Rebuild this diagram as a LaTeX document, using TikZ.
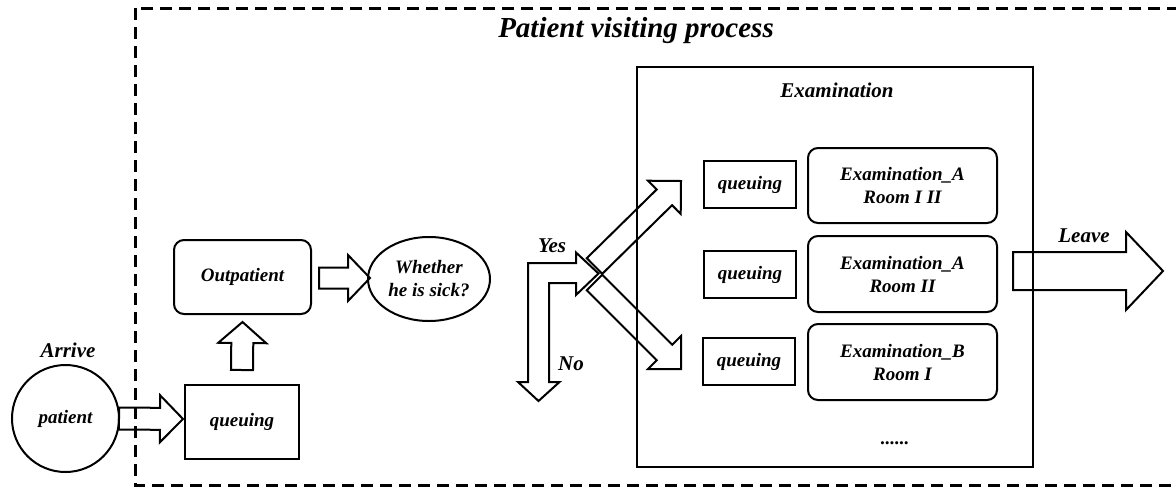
\documentclass[tikz,border=0pt]{standalone}
\usepackage{fontspec}
\setmainfont{Liberation Serif}
\usetikzlibrary{calc,shapes.geometric}
\tikzset{
  txt/.style={font=\bfseries\itshape\fontsize{19}{23}\selectfont, align=center, inner sep=0pt},
  bigtxt/.style={txt, font=\bfseries\itshape\fontsize{21}{25}\selectfont},
  box/.style={txt, draw, line width=2pt, inner sep=0pt, outer sep=0pt},
  rbox/.style={box, rounded corners=10pt},
  blockarrow/.style={draw, line width=2pt, line join=miter},
  frame/.style={draw, line width=3pt, dash pattern=on 12pt off 7pt},
}
% block arrow: start, tip, shaft half width, head half width, head length
\newcommand{\barrow}[5]{%
  \coordinate (ba-s) at (#1);
  \coordinate (ba-t) at (#2);
  \coordinate (ba-b) at ($(ba-t)!#5pt!(ba-s)$);
  \draw[blockarrow] ($(ba-s)!#3pt!90:(ba-t)$) -- ($(ba-b)!#3pt!90:(ba-t)$)
    -- ($(ba-b)!#4pt!90:(ba-t)$) -- (ba-t) -- ($(ba-b)!#4pt!-90:(ba-t)$)
    -- ($(ba-b)!#3pt!-90:(ba-t)$) -- ($(ba-s)!#3pt!-90:(ba-t)$) -- cycle;
}
\begin{document}
\begin{tikzpicture}[x=1pt,y=-1pt]
\useasboundingbox (0,0) rectangle (1176,488);
\draw[frame] (135,8) rectangle (1177.5,485);
\node[txt, font=\bfseries\itshape\fontsize{29}{33}\selectfont] (title) at (636,31) {Patient visiting process};

\node[box, circle, minimum size=107] (patient) at (65.5,418.5) {patient};
\node[bigtxt] (arrive) at (68,350) {Arrive};
\node[box, minimum width=114, minimum height=74] (q0) at (242,422) {queuing};
\node[rbox, minimum width=137, minimum height=74] (outp) at (242.5,277) {Outpatient};
\node[box, ellipse, minimum width=122, minimum height=84] (sick) at (429,279) {Whether\\he is sick?};

\node[box, line width=2.5pt, minimum width=396, minimum height=400] (exam) at (835,267) {};
\node[bigtxt] (examlabel) at (837,90) {Examination};

\node[box, minimum width=92, minimum height=47] (q1) at (750,184.5) {queuing};
\node[box, minimum width=92, minimum height=47] (q2) at (750,274.5) {queuing};
\node[box, minimum width=92, minimum height=47] (q3) at (749,361.5) {queuing};
\node[rbox, minimum width=189, minimum height=75] (r1) at (902.5,185.5) {Examination\_A\\Room I II};
\node[rbox, minimum width=189, minimum height=76] (r2) at (902.5,274) {Examination\_A\\Room II};
\node[rbox, minimum width=189, minimum height=76] (r3) at (902.5,362) {Examination\_B\\Room I};
\node[txt] (dots) at (895,443) {......};

% arrows
\barrow{patient.east}{$(q0.west)+(-2,-3)$}{11}{23.5}{23}
\barrow{$(q0.north)+(0,-15)$}{$(outp.south)+(0,8)$}{11}{24}{21}
\barrow{$(outp.east)+(8,1)$}{$(sick.west)+(2,-1)$}{10.5}{23}{22}

% decision arrow (Yes / No)
\draw[blockarrow] (528,382) -- (528,263) -- (576,263) -- (576,252.5) -- (598.5,273.5)
  -- (576,295) -- (576,283) -- (549,283) -- (549,382) -- (559.5,382)
  -- (538.5,401) -- (518,382) -- cycle;
\node[bigtxt] (yes) at (552,246) {Yes};
\node[bigtxt] (no) at (571,364) {No};

\coordinate (split) at (594.5,274);
\barrow{$(split)+(0,-8)$}{$(q1.west)+(-23,-3.5)$}{11}{23.3}{23.3}
\barrow{$(split)+(0,8.5)$}{$(q3.west)+(-22,7.5)$}{11}{23.3}{23.3}

\barrow{$(r2.east)+(16,-3)$}{$(r2.east)+(166,-3)$}{19}{39}{37}
\node[bigtxt] (leave) at (1084,236) {Leave};
\end{tikzpicture}
\end{document}
